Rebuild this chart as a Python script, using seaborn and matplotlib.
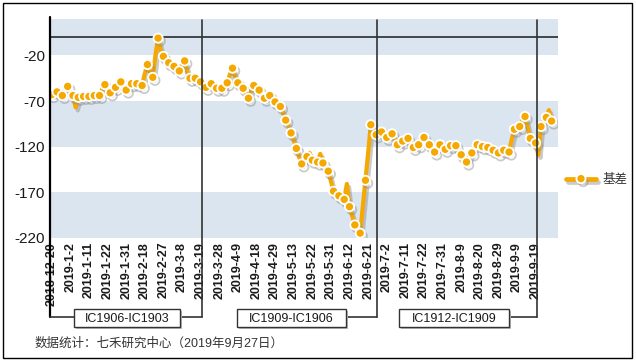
import numpy as np
import pandas as pd
import matplotlib
matplotlib.use("Agg")
import matplotlib.pyplot as plt
import matplotlib.patheffects as pe
from matplotlib.patches import Rectangle
from matplotlib.lines import Line2D
import seaborn as sns

# ---------------- data ----------------
holidays = ["2018-12-31", "2019-01-01", "2019-02-04", "2019-02-05", "2019-02-06",
            "2019-02-07", "2019-02-08", "2019-04-05", "2019-05-01", "2019-05-02",
            "2019-05-03", "2019-06-07", "2019-09-13"]
dates = pd.bdate_range("2018-12-20", "2019-09-27", freq="C", holidays=holidays)
date_labels = [f"{d.year}-{d.month}-{d.day}" for d in dates]

basis = [
    -63, -62, -60, -62, -64, -58, -54, -61, -64, -77,
    -66, -64, -65, -66, -65, -64, -64, -63, -64, -57,
    -52, -58, -61, -57, -55, -51, -49, -55, -58, -53,
    -51, -50, -51, -53, -53, -40, -30, -39, -44, -20,
    -1, -14, -21, -26, -28, -30, -32, -35, -37, -30,
    -26, -38, -45, -44, -45, -47, -49, -54, -55, -52,
    -51, -54, -56, -57, -56, -52, -50, -41, -34, -43,
    -50, -53, -56, -62, -67, -59, -53, -55, -58, -63,
    -67, -65, -64, -68, -71, -73, -76, -83, -91, -97,
    -105, -113, -122, -131, -139, -134, -131, -127, -135, -137,
    -137, -128, -138, -142, -147, -158, -169, -172, -174, -176,
    -178, -161, -186, -196, -206, -211, -215, -186, -157, -127,
    -96, -102, -107, -105, -104, -108, -110, -107, -106, -112,
    -118, -116, -114, -112, -111, -117, -121, -119, -118, -113,
    -110, -114, -118, -122, -126, -121, -118, -121, -123, -120,
    -119, -117, -119, -125, -129, -133, -137, -132, -127, -122,
    -118, -119, -120, -121, -121, -122, -124, -126, -127, -125,
    -124, -125, -126, -112, -101, -99, -98, -91, -87, -99,
    -111, -113, -116, -129, -98, -92, -88, -80, -92,
]
series_name = "基差"
y_ticks = [-20, -70, -120, -170, -220]
contract_labels = ["IC1906-IC1903", "IC1909-IC1906", "IC1912-IC1909"]
switch_dates = ["2019-03-19", "2019-06-26", "2019-09-19"]
footer = "数据统计：七禾研究中心（2019年9月27日）"

n = min(len(dates), len(basis))
df = pd.DataFrame({"idx": np.arange(n), "basis": basis[:n]})

# ---------------- style ----------------
sns.set_theme(style="white")
plt.rcParams["font.family"] = ["Liberation Sans", "Noto Sans CJK SC", "DejaVu Sans"]
plt.rcParams["axes.unicode_minus"] = False

W, H = 636, 363
fig = plt.figure(figsize=(W / 100, H / 100), dpi=100)
fig.patch.set_facecolor("white")

def fx(px):
    return px / W

def fy(py):
    return 1 - py / H

ax_l, ax_r, ax_t, ax_b = 50, 558, 19, 237.7
ax = fig.add_axes([fx(ax_l), fy(ax_b), fx(ax_r) - fx(ax_l), fy(ax_t) - fy(ax_b)])
ax.set_facecolor("white")

orange = "#F5A800"
band = "#DAE5F0"

for lo, hi in [(-220, -170), (-120, -70), (-20, 20)]:
    ax.axhspan(lo, hi, color=band, lw=0, zorder=0)
ax.axhline(0, color="#1a1a1a", lw=1.1, zorder=1)

sns.lineplot(data=df, x="idx", y="basis", ax=ax, color=orange, lw=3.0,
             marker="o", markevery=2, markersize=6.6, markeredgecolor="white",
             markeredgewidth=1.3, legend=False, zorder=3)
line = ax.get_lines()[-1]
shadow = [pe.SimpleLineShadow(offset=(1.6, -2.2), shadow_color="#8c8c8c", alpha=0.45),
          pe.Normal()]
line.set_path_effects(shadow)
line.set_solid_joinstyle("round")

xmin, xmax = -0.64, 190.4
ax.set_xlim(xmin, xmax)
ax.set_ylim(-220, 20)

tick_idx = list(range(0, n, 7))
ax.set_xticks(tick_idx)
ax.set_xticklabels([date_labels[i] for i in tick_idx], rotation=90,
                   fontsize=9, fontweight="bold", color="#1a1a1a")
ax.set_yticks(y_ticks)
ax.set_yticklabels([str(v) for v in y_ticks], fontsize=11, color="#1a1a1a")
ax.tick_params(axis="x", length=0, pad=3)
ax.tick_params(axis="y", length=0, pad=3.5)
ax.set_xlabel("")
ax.set_ylabel("")
for s in ax.spines.values():
    s.set_visible(False)

def data_to_px(xd):
    return ax_l + (xd - xmin) / (xmax - xmin) * (ax_r - ax_l)

# left axis line extending down to the bracket
fig.add_artist(Line2D([fx(49.5), fx(49.5)], [fy(17), fy(317)], color="black", lw=1.6))

# vertical contract switch lines
pos = {d.strftime("%Y-%m-%d"): i for i, d in enumerate(dates)}
vx = [data_to_px(pos[d] + 0.4) for d in switch_dates]
for x in vx:
    fig.add_artist(Line2D([fx(x), fx(x)], [fy(20), fy(317)], color="#333333", lw=1.2, zorder=10))

# contract boxes and brackets
boxes = [(74, 180), (237, 346), (399, 509)]
starts = [49.5, None, None]
for (bx0, bx1), lab, x_end, x_start in zip(boxes, contract_labels, vx, starts):
    fig.add_artist(Rectangle((fx(bx0 + 2), fy(329)), fx(bx1) - fx(bx0), fy(309) - fy(327),
                             facecolor="#bdbdbd", edgecolor="none", zorder=4))
    fig.add_artist(Rectangle((fx(bx0), fy(327)), fx(bx1) - fx(bx0), fy(309) - fy(327),
                             facecolor="white", edgecolor="#333333", lw=1.0, zorder=5))
    fig.text(fx((bx0 + bx1) / 2), fy(318.5), lab, ha="center", va="center",
             fontsize=9, color="#1a1a1a", zorder=6)
    fig.add_artist(Line2D([fx(bx1), fx(x_end)], [fy(317), fy(317)], color="#333333", lw=1.2))
    if x_start is not None:
        fig.add_artist(Line2D([fx(x_start), fx(bx0)], [fy(317), fy(317)], color="#333333", lw=1.2))

# legend
handle = Line2D([], [], color=orange, lw=3.4, marker="o", markersize=6.6,
                markeredgecolor="white", markeredgewidth=1.3, solid_capstyle="round")
handle.set_path_effects(shadow)
fig.legend([handle], [series_name], loc="center left",
           bbox_to_anchor=(fx(566), fy(180)), frameon=False, fontsize=9,
           handlelength=2.4, handletextpad=0.5, borderpad=0, borderaxespad=0,
           labelcolor="#333333")

# footer
fig.text(fx(35), fy(344), footer, ha="left", va="center", fontsize=9, color="#333333")

# outer border
fig.add_artist(Rectangle((fx(3), fy(358)), fx(632) - fx(3), fy(3) - fy(358),
                         facecolor="none", edgecolor="black", lw=1.0))

fig.savefig("out.png", dpi=100, facecolor="white")
